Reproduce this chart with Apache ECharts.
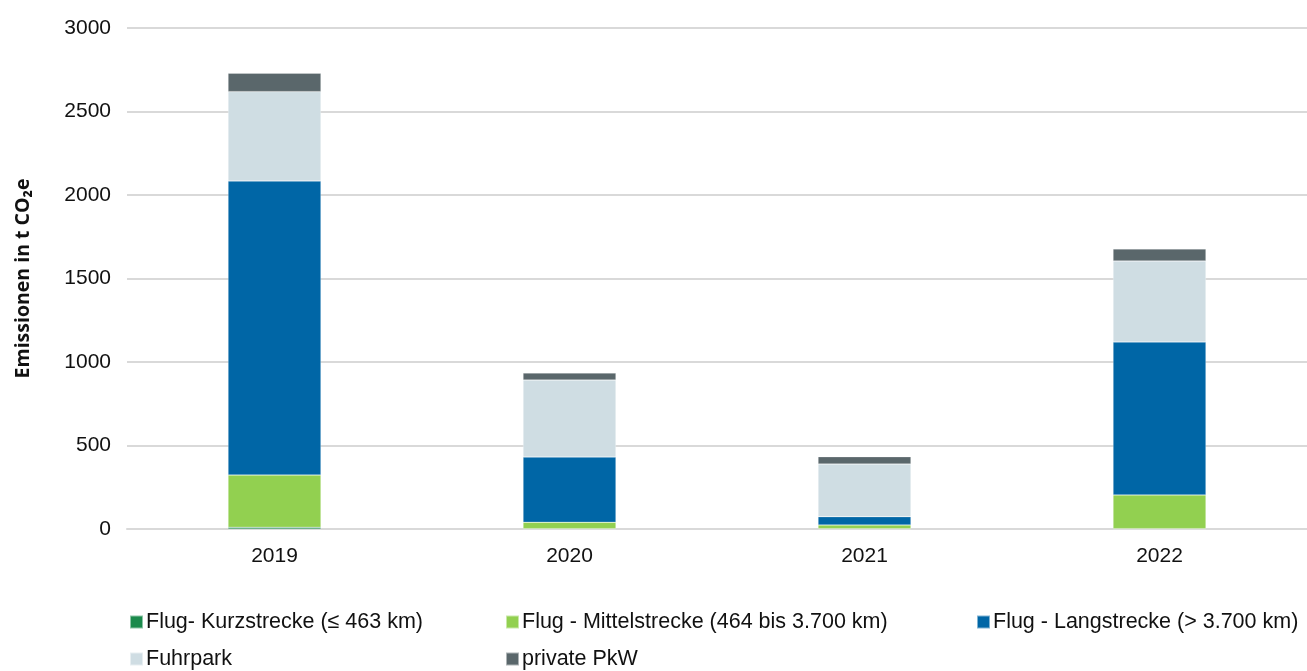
<!DOCTYPE html>
<html><head><meta charset="utf-8">
<script src="https://cdn.jsdelivr.net/npm/echarts@6/dist/echarts.min.js"></script>
<style>html,body{margin:0;padding:0;background:#fff}#c{width:1307px;height:671px}</style>
</head><body><div id="c"></div>
<script>
const categories = ['2019', '2020', '2021', '2022'];
const seriesNames = ['Flug- Kurzstrecke (≤ 463 km)', 'Flug - Mittelstrecke (464 bis 3.700 km)', 'Flug - Langstrecke (> 3.700 km)', 'Fuhrpark', 'private PkW'];
const kurzstrecke = [10, 2, 2, 2];
const mittelstrecke = [313, 38, 22, 202];
const langstrecke = [1761, 391, 50, 916];
const fuhrpark = [535, 461, 315, 485];
const privatePkw = [110, 42, 44, 72];
const yTicks = [0, 500, 1000, 1500, 2000, 2500, 3000];
const colors = ['#1b8a4c', '#92d050', '#0066a6', '#cfdde3', '#5a676b'];
const yTitle = 'Emissionen in t CO₂e';

const values = [kurzstrecke, mittelstrecke, langstrecke, fuhrpark, privatePkw];
const chart = echarts.init(document.getElementById('c'));
const legendPos = [[124, 606], [500, 606], [971, 606], [124, 643], [500, 643]];
chart.setOption({
  animation: false,
  grid: {left: 127, right: 0, top: 28, bottom: 142},
  xAxis: {
    type: 'category', data: categories,
    axisLine: {lineStyle: {color: '#d9d9d9', width: 2}},
    axisTick: {show: false},
    axisLabel: {color: '#111', fontFamily: 'Liberation Sans, Arial', fontSize: 21, margin: 17}
  },
  yAxis: {
    type: 'value', min: yTicks[0], max: yTicks[yTicks.length - 1], interval: 500,
    name: yTitle, nameLocation: 'middle', nameGap: 94, nameRotate: 90,
    nameTextStyle: {color: '#111', fontFamily: 'Open Sans, Noto Sans', fontWeight: 'bold', fontSize: 19.5},
    axisLine: {show: false}, axisTick: {show: false},
    axisLabel: {color: '#111', fontFamily: 'Liberation Sans, Arial', fontSize: 21, margin: 16,
      formatter: v => String(v)},
    splitLine: {lineStyle: {color: '#d9d9d9', width: 2}}
  },
  legend: seriesNames.map((n, i) => ({
    data: [n], left: legendPos[i][0], top: legendPos[i][1],
    icon: 'rect', itemWidth: 13, itemHeight: 13, itemGap: 6,
    textStyle: {color: '#111', fontFamily: 'Liberation Sans, Arial', fontSize: 21.5, padding: [0, 0, 0, -2]}
  })),
  series: seriesNames.map((n, i) => ({
    name: n, type: 'bar', stack: 'total', data: values[i],
    barWidth: '31.5%',
    itemStyle: {color: colors[i], borderColor: 'rgba(255,255,255,0.5)', borderWidth: 0.5}
  }))
});
</script></body></html>
